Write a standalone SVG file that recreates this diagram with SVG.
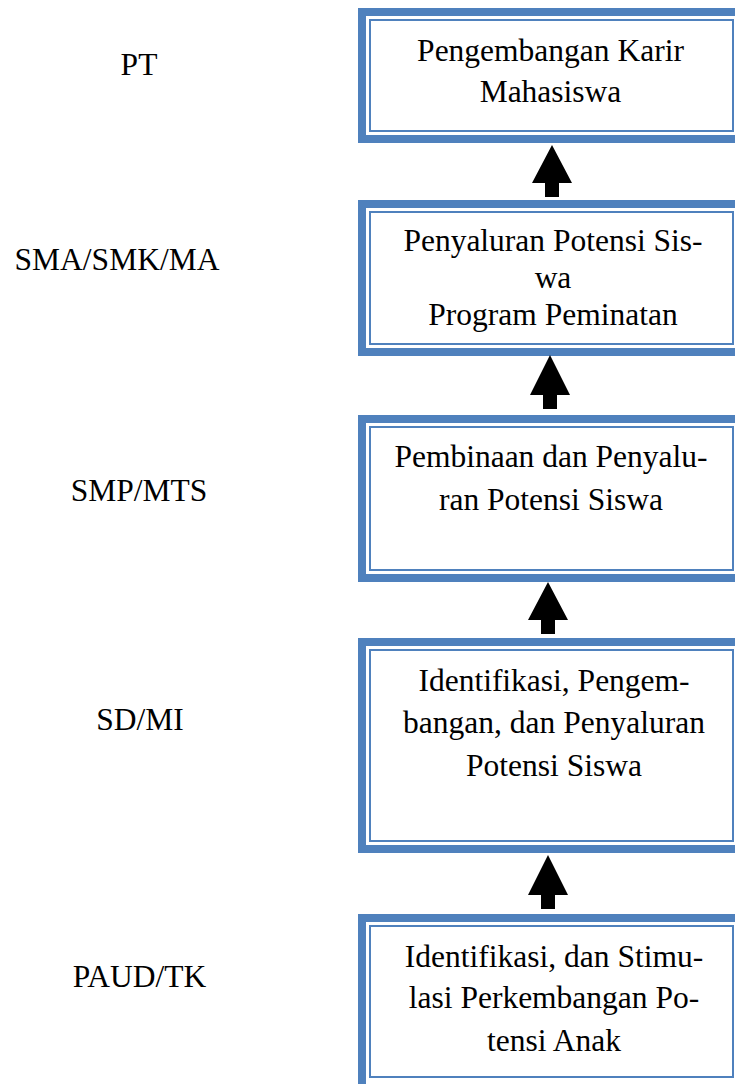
<svg xmlns="http://www.w3.org/2000/svg" width="735" height="1084" viewBox="0 0 735 1084">
<style>
.outer{fill:#fff;stroke:#4F81BD;stroke-width:8}
.inner{fill:none;stroke:#4F81BD;stroke-width:2}
.t{font-family:"Liberation Serif","Times New Roman",serif;font-size:31.5px;fill:#000;text-anchor:middle}
.arr{fill:#000}
</style>
<rect width="735" height="1084" fill="#fff"/>
<g id="labels">
<text class="t" x="139" y="75">PT</text>
<text class="t" x="117" y="270">SMA/SMK/MA</text>
<text class="t" x="139" y="501">SMP/MTS</text>
<text class="t" x="140" y="730">SD/MI</text>
<text class="t" x="139.5" y="987">PAUD/TK</text>
</g>
<g id="node-pt">
<rect class="outer" x="362" y="12" width="379" height="127"/>
<rect class="inner" x="370" y="20" width="363" height="111"/>
<text class="t" x="550.5" y="61">Pengembangan Karir</text>
<text class="t" x="550.5" y="102">Mahasiswa</text>
</g>
<g id="node-sma">
<rect class="outer" x="362" y="204" width="379" height="148"/>
<rect class="inner" x="370" y="212" width="363" height="132"/>
<text class="t" x="553" y="251">Penyaluran Potensi Sis-</text>
<text class="t" x="553" y="288">wa</text>
<text class="t" x="553" y="325">Program Peminatan</text>
</g>
<g id="node-smp">
<rect class="outer" x="362" y="419" width="379" height="159"/>
<rect class="inner" x="370" y="427" width="363" height="143"/>
<text class="t" x="551" y="467">Pembinaan dan Penyalu-</text>
<text class="t" x="551" y="510">ran Potensi Siswa</text>
</g>
<g id="node-sd">
<rect class="outer" x="362" y="642" width="379" height="207"/>
<rect class="inner" x="370" y="650" width="363" height="191"/>
<text class="t" x="554" y="691">Identifikasi, Pengem-</text>
<text class="t" x="554" y="733">bangan, dan Penyaluran</text>
<text class="t" x="554" y="776">Potensi Siswa</text>
</g>
<g id="node-paud">
<rect class="outer" x="362" y="918" width="379" height="170"/>
<rect class="inner" x="370" y="926" width="363" height="151"/>
<text class="t" x="554" y="967">Identifikasi, dan Stimu-</text>
<text class="t" x="554" y="1008">lasi Perkembangan Po-</text>
<text class="t" x="554" y="1051">tensi Anak</text>
</g>
<g id="connectors">
<path class="arr" d="M552,145 L572,183 L559,183 L559,197 L545,197 L545,183 L532,183 Z"/>
<path class="arr" d="M550,355 L570,395 L557,395 L557,409 L543,409 L543,395 L530,395 Z"/>
<path class="arr" d="M548,582 L568,620 L555,620 L555,634 L541,634 L541,620 L528,620 Z"/>
<path class="arr" d="M548,855 L568,895 L555,895 L555,909 L541,909 L541,895 L528,895 Z"/>
</g>
</svg>
